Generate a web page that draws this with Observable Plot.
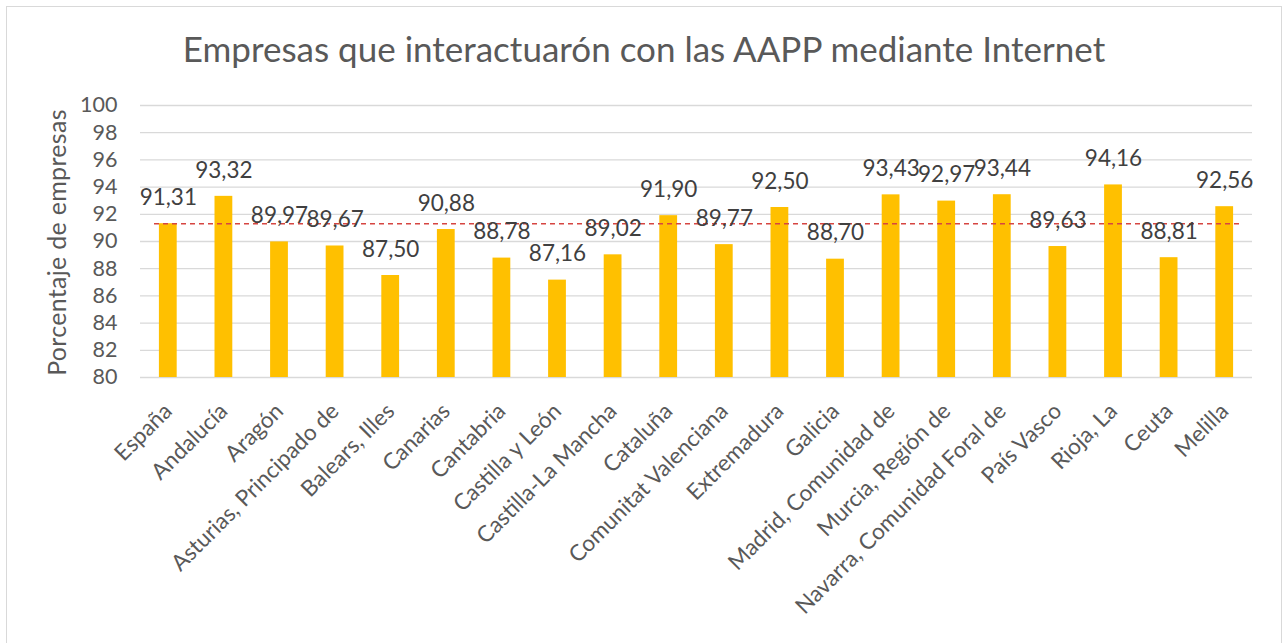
<!DOCTYPE html>
<html><head><meta charset="utf-8">
<script src="https://cdn.jsdelivr.net/npm/d3@7"></script>
<script src="https://cdn.jsdelivr.net/npm/@observablehq/plot@0.6"></script>
<style>
body{margin:0;background:#fff;}
#wrap{position:relative;width:1284px;height:643px;overflow:hidden;font-family:Lato,sans-serif;background:#fff;}
#frame{position:absolute;left:6px;top:6px;width:1276px;height:660px;border:1.5px solid #d9d9d9;box-sizing:border-box}
#title{position:absolute;left:0;width:1288px;top:31px;text-align:center;font-size:35px;line-height:35px;color:#595959}
#ylabel{position:absolute;left:-94px;top:230px;width:300px;height:25px;line-height:25px;font-size:25px;letter-spacing:0.3px;text-align:center;color:#595959;transform:rotate(-90deg);white-space:nowrap}
#chart{position:absolute;left:0;top:85px}
</style></head><body>
<div id="wrap"><div id="frame"></div><div id="title"></div><div id="ylabel"></div><div id="chart"></div></div>
<script>
const titleText = "Empresas que interactuarón con las AAPP mediante Internet";
const yLabel = "Porcentaje de empresas";
const regions = ["España","Andalucía","Aragón","Asturias, Principado de","Balears, Illes","Canarias","Cantabria","Castilla y León","Castilla-La Mancha","Cataluña","Comunitat Valenciana","Extremadura","Galicia","Madrid, Comunidad de","Murcia, Región de","Navarra, Comunidad Foral de","País Vasco","Rioja, La","Ceuta","Melilla"];
const values = [91.31,93.32,89.97,89.67,87.50,90.88,88.78,87.16,89.02,91.90,89.77,92.50,88.70,93.43,92.97,93.44,89.63,94.16,88.81,92.56];
const referenceValue = 91.31;
const yTicks = [80,82,84,86,88,90,92,94,96,98,100];
const yDomain = [80,100];

document.getElementById("title").textContent = titleText;
document.getElementById("ylabel").textContent = yLabel;

const data = regions.map((r,i)=>({region:r, value:values[i]}));
const fmt = v => v.toFixed(2).replace(".", ",");

const chart = Plot.plot({
  width:1284, height:555,
  marginTop:20, marginBottom:263, marginLeft:140, marginRight:32,
  style:{fontFamily:"Lato, sans-serif", fontSize:"21.5px", color:"#595959", background:"transparent", overflow:"visible"},
  x:{domain:regions, paddingInner:0.68, paddingOuter:0.34, round:false, label:null, tickSize:0, tickRotate:-45, tickPadding:30},
  y:{domain:yDomain, ticks:yTicks, label:null, tickSize:0, tickPadding:23},
  marks:[
    Plot.gridY(yTicks,{stroke:"#d9d9d9", strokeOpacity:1, strokeWidth:1.3}),
    Plot.barY(data,{x:"region", y1:yDomain[0], y2:"value", fill:"#FFC000"}),
    Plot.ruleY([referenceValue],{stroke:"#d64541", strokeWidth:1.5, strokeDasharray:"5,4", insetLeft:14, insetRight:10}),
    Plot.text(data,{x:"region", y:"value", text:d=>fmt(d.value), dy:-26, fontSize:22.5, fill:"#404040"})
  ]
});
chart.querySelectorAll('g[aria-label="x-axis tick label"] text').forEach(t => t.style.fontSize = "22.5px");
document.getElementById("chart").appendChild(chart);
</script>
</body></html>
